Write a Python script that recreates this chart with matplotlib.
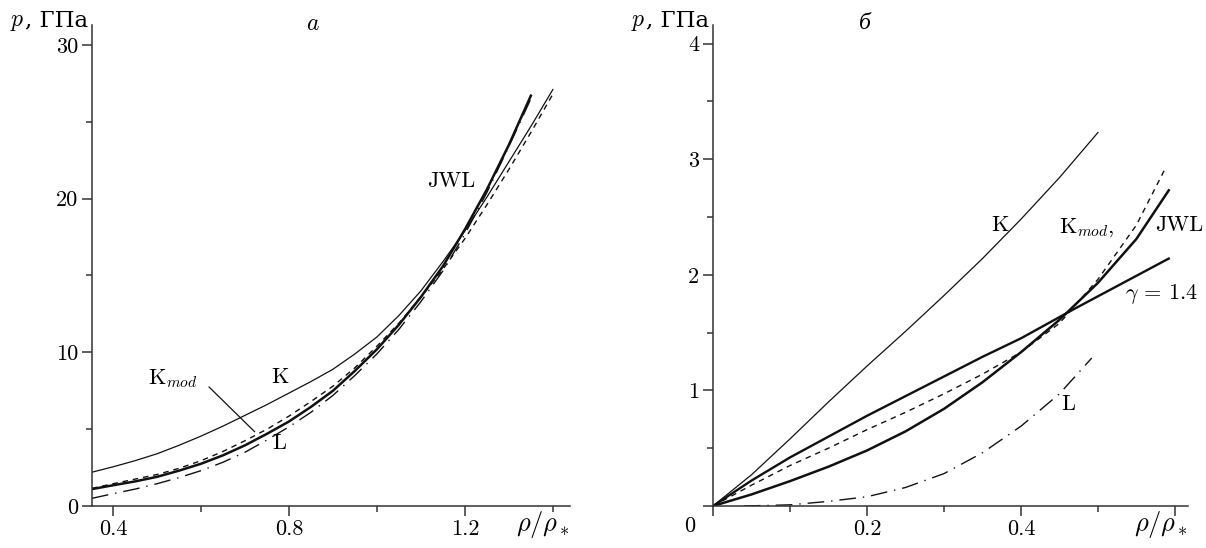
import matplotlib
matplotlib.use('Agg')
import matplotlib.pyplot as plt
from matplotlib.ticker import FixedLocator
from matplotlib.offsetbox import TextArea, HPacker, AnnotationBbox

plt.rcParams['font.family'] = ['cmr10', 'Liberation Serif']
plt.rcParams['mathtext.fontset'] = 'cm'
plt.rcParams['axes.formatter.use_mathtext'] = True
plt.rcParams['font.size'] = 16

# panel a: p(rho) at high density
xa_K = [0.352, 0.4, 0.45, 0.5, 0.55, 0.6, 0.65, 0.7, 0.75, 0.8, 0.85, 0.9,
        0.95, 1.0, 1.05, 1.1, 1.15, 1.2, 1.25, 1.3, 1.35, 1.4]
ya_K = [2.2, 2.55, 2.95, 3.4, 3.95, 4.55, 5.2, 5.9, 6.6, 7.35, 8.1, 8.9,
        9.9, 11.0, 12.4, 14.0, 15.9, 17.9, 20.1, 22.4, 24.7, 27.1]
xa_Kmod = [0.352, 0.4, 0.45, 0.5, 0.55, 0.6, 0.65, 0.7, 0.75, 0.8, 0.85, 0.9,
           0.95, 1.0, 1.05, 1.1, 1.15, 1.2, 1.25, 1.3, 1.35, 1.4]
ya_Kmod = [1.15, 1.45, 1.75, 2.05, 2.45, 2.95, 3.55, 4.25, 5.0, 5.85, 6.8, 7.8,
           9.0, 10.4, 11.9, 13.6, 15.4, 17.4, 19.6, 21.9, 24.3, 26.8]
xa_JWL = [0.352, 0.4, 0.45, 0.5, 0.55, 0.6, 0.65, 0.7, 0.75, 0.8, 0.85, 0.9,
          0.95, 1.0, 1.05, 1.1, 1.15, 1.2, 1.25, 1.3, 1.35]
ya_JWL = [1.1, 1.35, 1.6, 1.9, 2.3, 2.75, 3.3, 3.95, 4.7, 5.5, 6.45, 7.5,
          8.8, 10.2, 11.8, 13.6, 15.6, 18.0, 20.6, 23.5, 26.7]
xa_L = [0.352, 0.4, 0.45, 0.5, 0.55, 0.6, 0.65, 0.7, 0.75, 0.8, 0.85, 0.9,
        0.95, 1.0, 1.05, 1.1, 1.15, 1.2, 1.25, 1.3, 1.35]
ya_L = [0.5, 0.8, 1.1, 1.45, 1.85, 2.3, 2.85, 3.5, 4.3, 5.15, 6.1, 7.2,
        8.5, 9.9, 11.5, 13.3, 15.3, 17.7, 20.4, 23.4, 26.5]

# panel b: p(rho) at low density
xb_K = [0.0, 0.05, 0.1, 0.15, 0.2, 0.25, 0.3, 0.35, 0.4, 0.45, 0.5]
yb_K = [0.0, 0.27, 0.58, 0.9, 1.21, 1.51, 1.82, 2.14, 2.48, 2.84, 3.23]
xb_gamma = [0.0, 0.05, 0.1, 0.15, 0.2, 0.25, 0.3, 0.35, 0.4, 0.468, 0.53, 0.592]
yb_gamma = [0.0, 0.22, 0.42, 0.6, 0.78, 0.95, 1.12, 1.29, 1.45, 1.70, 1.92, 2.14]
xb_JWL = [0.0, 0.05, 0.1, 0.15, 0.2, 0.25, 0.3, 0.35, 0.4, 0.45, 0.5, 0.55, 0.592]
yb_JWL = [0.0, 0.1, 0.215, 0.34, 0.48, 0.645, 0.84, 1.07, 1.33, 1.61, 1.93, 2.31, 2.73]
xb_Kmod = [0.0, 0.05, 0.1, 0.15, 0.2, 0.25, 0.3, 0.35, 0.4, 0.45, 0.5, 0.55, 0.586]
yb_Kmod = [0.0, 0.18, 0.35, 0.5, 0.66, 0.81, 0.97, 1.14, 1.33, 1.58, 1.96, 2.43, 2.9]
xb_L = [0.04, 0.1, 0.15, 0.2, 0.25, 0.3, 0.35, 0.4, 0.45, 0.492]
yb_L = [0.0, 0.01, 0.04, 0.08, 0.16, 0.28, 0.46, 0.69, 0.97, 1.28]

W, H = 1206, 548
fig = plt.figure(figsize=(W / 100, H / 100), dpi=100)
ax1 = fig.add_axes([92 / W, 42 / H, 478 / W, 481 / H])
ax2 = fig.add_axes([713 / W, 42 / H, 475 / W, 481 / H])

ink = '#111111'
dash = (0, (4, 3.5))
dashdot = (0, (12, 5, 1, 5))

for ax in (ax1, ax2):
    for s in ('top', 'right'):
        ax.spines[s].set_visible(False)
    for s in ('left', 'bottom'):
        ax.spines[s].set_linewidth(1.1)
        ax.spines[s].set_color('#333333')
    ax.tick_params(which='major', direction='out', length=7, width=1.1,
                   color='#333333', labelsize=16, pad=3)
    ax.tick_params(which='minor', direction='out', length=4, width=1.1,
                   color='#333333')
    # y label "p, ГПа" at the top of the axis
    lab = HPacker(children=[TextArea(r'$p$', textprops=dict(fontsize=17)),
                            TextArea(', ГПа', textprops=dict(
                                fontsize=16.5, family='DejaVu Serif'))],
                  align='baseline', pad=0, sep=0)
    ax.add_artist(AnnotationBbox(lab, (0, 1), xycoords='axes fraction',
                                 xybox=(-3, -6), boxcoords='offset points',
                                 box_alignment=(1, 0), frameon=False,
                                 pad=0, annotation_clip=False))
    ax.text(1.0, -0.052, r'$\rho/\rho_*$', transform=ax.transAxes,
            ha='right', va='baseline', fontsize=19)

# panel a
ax1.plot(xa_K, ya_K, color=ink, lw=0.9)
ax1.plot(xa_Kmod, ya_Kmod, color=ink, lw=1.0, ls=dash)
ax1.plot(xa_JWL, ya_JWL, color=ink, lw=1.8)
ax1.plot(xa_L, ya_L, color=ink, lw=1.0, ls=dashdot)
ax1.set_xlim(0.352, 1.439)
ax1.set_ylim(0, 31.3)
ax1.xaxis.set_major_locator(FixedLocator([0.4, 0.8, 1.2]))
ax1.xaxis.set_minor_locator(FixedLocator([0.6, 1.0, 1.4]))
ax1.set_xticklabels(['0.4', '0.8', '1.2'])
ax1.yaxis.set_major_locator(FixedLocator([0, 10, 20, 30]))
ax1.yaxis.set_minor_locator(FixedLocator([5, 15, 25]))
ax1.set_yticklabels(['0', '10', '20', '30'])
ax1.text(0.462, 1.003, r'$a$', transform=ax1.transAxes, ha='center',
         va='center', fontsize=17)
ax1.text(1.168, 21.15, 'JWL', ha='center', va='center')
ax1.text(0.78, 8.35, 'K', ha='center', va='center')
ax1.text(0.48, 8.3, r'K$_{mod}$', ha='left', va='center')
ax1.text(0.779, 4.07, 'L', ha='center', va='center')
ax1.annotate('', xy=(0.722, 4.83), xytext=(0.618, 7.75),
             arrowprops=dict(arrowstyle='-', color=ink, lw=0.9,
                             shrinkA=0, shrinkB=0))

# panel b
ax2.plot(xb_K, yb_K, color=ink, lw=0.9)
ax2.plot(xb_gamma, yb_gamma, color=ink, lw=1.7)
ax2.plot(xb_JWL, yb_JWL, color=ink, lw=1.8)
ax2.plot(xb_Kmod, yb_Kmod, color=ink, lw=1.0, ls=dash)
ax2.plot(xb_L, yb_L, color=ink, lw=1.0, ls=dashdot)
ax2.set_xlim(0, 0.617)
ax2.set_ylim(0, 4.16)
ax2.xaxis.set_major_locator(FixedLocator([0, 0.2, 0.4, 0.6]))
ax2.xaxis.set_minor_locator(FixedLocator([0.1, 0.3, 0.5]))
ax2.set_xticklabels(['', '0.2', '0.4', ''])
ax2.yaxis.set_major_locator(FixedLocator([0, 1, 2, 3, 4]))
ax2.yaxis.set_minor_locator(FixedLocator([0.5, 1.5, 2.5, 3.5]))
ax2.set_yticklabels(['', '1', '2', '3', '4'])
ax2.annotate('0', xy=(0, 0), xycoords='data', xytext=(-23, -10),
             textcoords='offset pixels', ha='center', va='top', fontsize=16)
ax2.text(0.32, 1.003, 'б', transform=ax2.transAxes, ha='center',
         va='center', fontsize=17, family='Liberation Serif', style='italic')
ax2.text(0.373, 2.43, 'K', ha='center', va='center')
ax2.text(0.45, 2.41, r'K$_{mod}$,', ha='left', va='center')
ax2.text(0.574, 2.43, 'JWL', ha='left', va='center', clip_on=False)
ax2.text(0.535, 1.83, r'$\gamma\,=\,1.4$', ha='left', va='center',
         clip_on=False)
ax2.text(0.461, 0.876, 'L', ha='center', va='center')

fig.savefig('out.png', dpi=100)
